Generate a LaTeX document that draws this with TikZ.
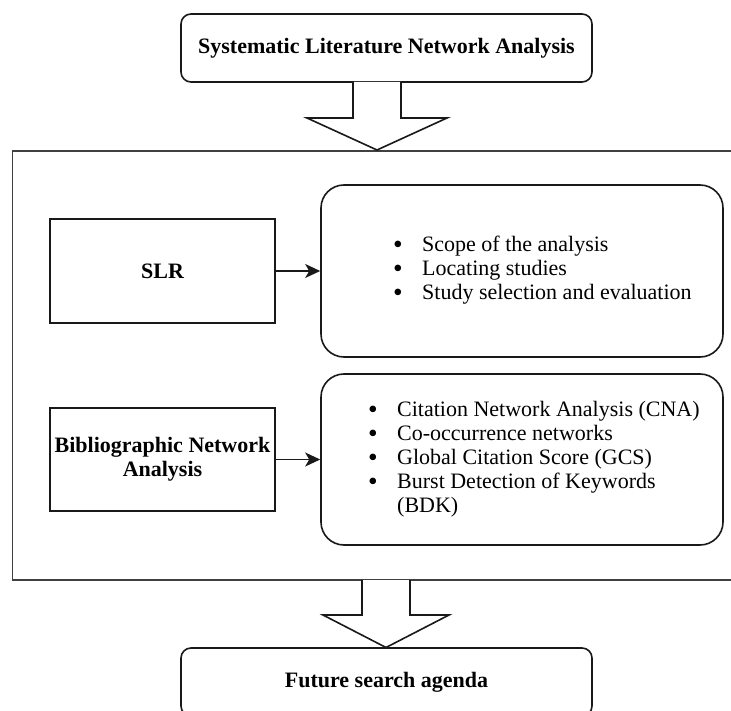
\documentclass[tikz,border=0pt]{standalone}
\usepackage{fontspec}
\setmainfont{Liberation Serif}
\usetikzlibrary{arrows.meta}
\newcommand{\bul}{\raisebox{-1.8pt}{\scalebox{1.25}{\textbullet}}}
\begin{document}
\begin{tikzpicture}[x=1pt,y=-1pt,
  every node/.style={font=\fontsize{22}{24}\selectfont},
  ln/.style={line width=1.6pt, draw=black!90},
  titlebox/.style={ln, rounded corners=10pt, minimum width=411pt, minimum height=68pt, inner sep=0pt, font=\fontsize{22}{24}\selectfont\bfseries},
  sqbox/.style={ln, minimum width=225pt, minimum height=104pt, inner sep=0pt, align=center, font=\fontsize{22}{24}\selectfont\bfseries},
  listbox/.style={ln, rounded corners=23pt, minimum width=402pt, minimum height=172pt, inner sep=0pt},
  listtext/.style={anchor=west, inner sep=0pt, align=left},
  blockarrow/.style={ln, fill=white, line join=miter},
  arr/.style={line width=1.6pt, draw=black!90, -{Stealth[length=15pt,width=14pt,inset=4pt]}}
]
\useasboundingbox (0,0) rectangle (731,711);
\clip (0,0) rectangle (731,711);

% frame (right side runs off the picture)
\draw[line width=1.7pt, draw=black!75] (745,151) -- (12.5,151) -- (12.5,580) -- (745,580);

% top and bottom boxes
\node[titlebox] (top) at (386.5,48) {Systematic Literature Network Analysis};
\node[titlebox] (bottom) at (386.5,682) {Future search agenda};

% block arrows
\draw[blockarrow] (353,82) -- (353,118) -- (307,118) -- (377,150) -- (447,118) -- (401,118) -- (401,82);
\draw[blockarrow] (362,580) -- (362,615) -- (323,615) -- (386,647.5) -- (449,615) -- (410,615) -- (410,580);

% left boxes
\node[sqbox] (slr) at (162.5,271) {SLR};
\node[sqbox, minimum height=103pt] (bna) at (162.5,459.5) {Bibliographic Network\\Analysis};

% right rounded boxes
\node[listbox] (box1) at (522,271) {};
\node[listbox, minimum height=171pt] (box2) at (522,459.5) {};

\node[listtext] (list1) at (393,271) {%
  \begin{tabular}{@{}p{29pt}@{}l@{}}
  \bul & Scope of the analysis\\
  \bul & Locating studies\\
  \bul & Study selection and evaluation
  \end{tabular}};
\node[listtext] (list2) at (368,459.5) {%
  \begin{tabular}{@{}p{29pt}@{}l@{}}
  \bul & Citation Network Analysis (CNA)\\
  \bul & Co-occurrence networks\\
  \bul & Global Citation Score (GCS)\\
  \bul & Burst Detection of Keywords\\
   & (BDK)
  \end{tabular}};

% connectors
\draw[arr] (slr) -- (box1);
\draw[arr] (bna) -- (box2);
\end{tikzpicture}
\end{document}
